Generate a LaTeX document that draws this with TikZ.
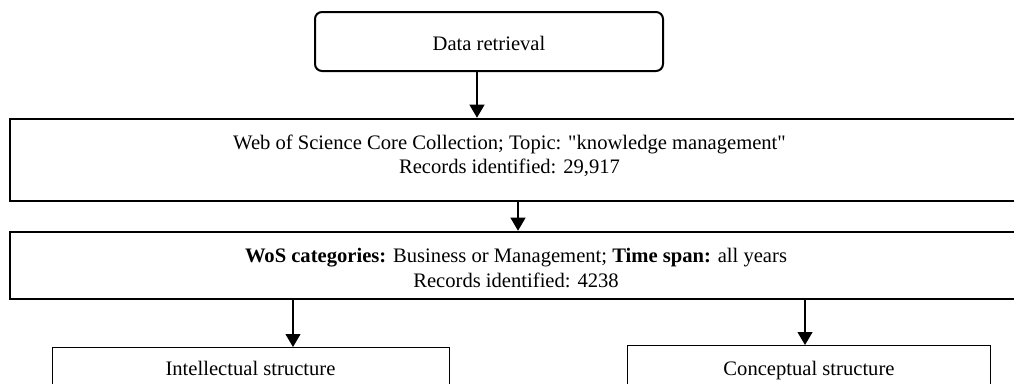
\documentclass[tikz,border=0pt]{standalone}
\usepackage{fontspec}
\setmainfont{Liberation Serif}[Ligatures=TeXOff]
\usetikzlibrary{arrows.meta}
\tikzset{
  txt/.style={inner sep=0pt, anchor=base, font=\fontsize{20.6}{24}\selectfont},
  roundbox/.style={draw, line width=2pt, rounded corners=7pt, inner sep=0pt},
  thickbox/.style={draw, line width=2.6pt, inner sep=0pt},
  thinbox/.style={draw, line width=1.2pt, inner sep=0pt},
  arr/.style={line width=1.1pt, -{Triangle[length=13pt,width=15pt]}}
}
\begin{document}
\begin{tikzpicture}[x=1pt,y=-1pt]
\useasboundingbox (0,0) rectangle (1014,383);
\clip (0,0) rectangle (1014,383);
% boxes
\node[roundbox, minimum width=348pt, minimum height=59pt] (top) at (489,41.5) {};
\node[txt] (toptxt) at (489,50) {Data retrieval};
\node[thickbox, minimum width=1030pt, minimum height=82pt] (wos) at (525,160) {};
\node[txt] (wosA) at (509.5,149) {Web of Science Core Collection; Topic: "knowledge management"};
\node[txt] (wosB) at (509.5,173) {Records identified: 29,917};
\node[thickbox, minimum width=1030pt, minimum height=67pt] (cat) at (525,265.5) {};
\node[txt] (catA) at (516,262) {\textbf{WoS categories:} Business or Management; \textbf{Time span:} all years};
\node[txt] (catB) at (516,287) {Records identified: 4238};
\node[thinbox, minimum width=397pt, minimum height=60pt, anchor=north west] (intel) at (52,347) {};
\node[txt] (inteltxt) at (250.5,375) {Intellectual structure};
\node[thinbox, minimum width=363pt, minimum height=60pt, anchor=north west] (conc) at (627,345) {};
\node[txt] (conctxt) at (809,375) {Conceptual structure};
% arrow x positions
\coordinate (x1) at (477,0);
\coordinate (x2) at (518,0);
\coordinate (x3) at (293,0);
\coordinate (x4) at (805,0);
% connectors
\draw[arr] (top.south -| x1) -- (wos.north -| x1);
\draw[arr] (wos.south -| x2) -- (cat.north -| x2);
\draw[arr] (cat.south -| x3) -- (intel.north -| x3);
\draw[arr] (cat.south -| x4) -- (conc.north -| x4);
\end{tikzpicture}
\end{document}
